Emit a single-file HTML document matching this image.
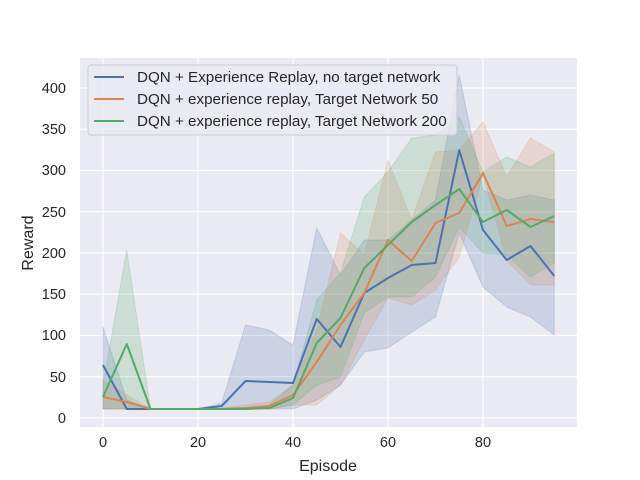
<!DOCTYPE html><html><head><style>body{margin:0;background:#fff}svg{display:block}text{font-family:"Liberation Sans",sans-serif;fill:#262626}</style></head><body>
<svg width="640" height="480" xmlns="http://www.w3.org/2000/svg">
<rect x="80" y="58" width="497" height="369" fill="#eaeaf2"/>
<g stroke="#fff" stroke-width="1.2">
<line x1="103" y1="58" x2="103" y2="427"/><line x1="198" y1="58" x2="198" y2="427"/><line x1="293" y1="58" x2="293" y2="427"/><line x1="388" y1="58" x2="388" y2="427"/><line x1="483" y1="58" x2="483" y2="427"/>
<line x1="80" y1="418" x2="577" y2="418"/><line x1="80" y1="376.75" x2="577" y2="376.75"/><line x1="80" y1="335.5" x2="577" y2="335.5"/><line x1="80" y1="294.25" x2="577" y2="294.25"/><line x1="80" y1="253" x2="577" y2="253"/><line x1="80" y1="211.75" x2="577" y2="211.75"/><line x1="80" y1="170.5" x2="577" y2="170.5"/><line x1="80" y1="129.25" x2="577" y2="129.25"/><line x1="80" y1="88" x2="577" y2="88"/>
</g>
<g font-size="14.5" text-anchor="end">
<text x="66" y="423">0</text><text x="66" y="382">50</text><text x="66" y="340">100</text><text x="66" y="299">150</text><text x="66" y="258">200</text><text x="66" y="217">250</text><text x="66" y="175">300</text><text x="66" y="134">350</text><text x="66" y="93">400</text>
</g>
<g font-size="14.5" text-anchor="middle">
<text x="103" y="447">0</text><text x="198" y="447">20</text><text x="293" y="447">40</text><text x="388" y="447">60</text><text x="483" y="447">80</text>
<text x="328" y="471" font-size="16">Episode</text>
</g>
<text x="0" y="0" font-size="16" text-anchor="middle" transform="translate(33,243) rotate(-90)">Reward</text>
<polygon fill="#4c72b0" fill-opacity="0.2" stroke="#4c72b0" stroke-opacity="0.2" points="103,327 126.75,400 150.5,409 174.25,409 198,409 221.75,403 245.5,325 269.25,330 293,345 316.75,228 340.5,275 364.25,240 388,240 411.75,220 435.5,200 459.25,75 483,190 506.75,200 530.5,195 554.25,200 554.25,335 530.5,317 506.75,307 483,287 459.25,233 435.5,317 411.75,332 388,348 364.25,352 340.5,385 316.75,400 293,409 269.25,409 245.5,409 221.75,409 198,409 174.25,409 150.5,409 126.75,409 103,409"/>
<polygon fill="#dd8452" fill-opacity="0.2" stroke="#dd8452" stroke-opacity="0.2" points="103,380 126.75,395 150.5,409 174.25,409 198,409 221.75,408 245.5,405 269.25,402 293,385 316.75,330 340.5,233 364.25,255 388,160 411.75,220 435.5,152 459.25,150 483,122 506.75,177 530.5,138 554.25,152 554.25,285 530.5,285 506.75,260 483,175 459.25,257 435.5,290 411.75,305 388,298 364.25,340 340.5,385 316.75,405 293,405 269.25,409 245.5,409 221.75,409 198,409 174.25,409 150.5,409 126.75,409 103,409"/>
<polygon fill="#55a868" fill-opacity="0.2" stroke="#55a868" stroke-opacity="0.2" points="103,385 126.75,250 150.5,409 174.25,409 198,409 221.75,409 245.5,408 269.25,405 293,385 316.75,300 340.5,273 364.25,197 388,172 411.75,138 435.5,135 459.25,117 483,172 506.75,157 530.5,167 554.25,153 554.25,263 530.5,277 506.75,255 483,253 459.25,227 435.5,277 411.75,297 388,297 364.25,313 340.5,377 316.75,385 293,405 269.25,409 245.5,409 221.75,409 198,409 174.25,409 150.5,409 126.75,409 103,409"/>
<g fill="none" stroke-width="2" stroke-linejoin="round">
<polyline stroke="#4c72b0" points="103,365 126.75,409 150.5,409 174.25,409 198,409 221.75,406 245.5,381 269.25,382 293,383 316.75,319 340.5,347 364.25,293 388,278 411.75,265 435.5,263 459.25,150 483,230 506.75,260 530.5,246 554.25,276"/>
<polyline stroke="#dd8452" points="103,397 126.75,402 150.5,409 174.25,409 198,409 221.75,409 245.5,408 269.25,406 293,395 316.75,362 340.5,325 364.25,293 388,240 411.75,261 435.5,223 459.25,213 483,173 506.75,226 530.5,219 554.25,222"/>
<polyline stroke="#55a868" points="103,397 126.75,344 150.5,409 174.25,409 198,409 221.75,409 245.5,409 269.25,408 293,398 316.75,343 340.5,318 364.25,268 388,245 411.75,222 435.5,205 459.25,189 483,222 506.75,210 530.5,227 554.25,216"/>
</g>
<rect x="88" y="65" width="369" height="70" rx="3" fill="#eaeaf2" fill-opacity="0.8" stroke="#ccc"/>
<g stroke-width="2"><line x1="94" y1="77" x2="124" y2="77" stroke="#4c72b0"/><line x1="94" y1="99" x2="124" y2="99" stroke="#dd8452"/><line x1="94" y1="121" x2="124" y2="121" stroke="#55a868"/></g>
<g font-size="15.2"><text x="137" y="82">DQN + Experience Replay, no target network</text><text x="137" y="104">DQN + experience replay, Target Network 50</text><text x="137" y="126">DQN + experience replay, Target Network 200</text></g>
</svg></body></html>
